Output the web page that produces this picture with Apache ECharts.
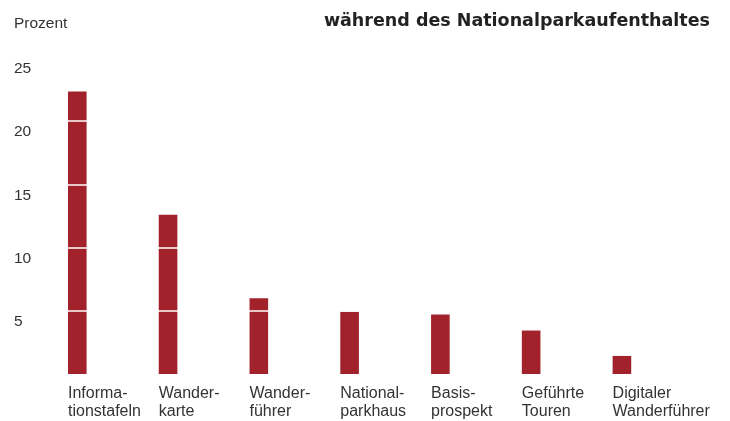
<!DOCTYPE html>
<html>
<head>
<meta charset="utf-8">
<script src="https://cdn.jsdelivr.net/npm/echarts@6/dist/echarts.min.js"></script>
<style>
  html, body { margin: 0; padding: 0; background: #fff; }
  #chart { width: 730px; height: 421px; }
</style>
</head>
<body>
<div id="chart"></div>
<script>
// Nutzung von Informationsangeboten während des Aufenthalts (Prozent)
const categories = [
  'Informa-\ntionstafeln',
  'Wander-\nkarte',
  'Wander-\nführer',
  'National-\nparkhaus',
  'Basis-\nprospekt',
  'Geführte\nTouren',
  'Digitaler\nWanderführer'
];
const values = [22.35, 12.6, 6.0, 4.93, 4.7, 3.44, 1.43];
const gridValues = [5, 10, 15, 20];

const chart = echarts.init(document.getElementById('chart'), null, { renderer: 'canvas' });
const font = '"Liberation Sans", Helvetica, Arial, sans-serif';

chart.setOption({
  animation: false,
  textStyle: { fontFamily: font },
  title: [
    {
      text: 'Prozent',
      left: 9, top: 11,
      textStyle: { fontSize: 15.5, fontWeight: 'normal', color: '#333', fontFamily: font }
    },
    {
      text: 'während des Nationalparkaufenthaltes',
      right: 15, top: 7,
      textStyle: { fontSize: 17.5, fontWeight: 'bold', color: '#222', fontFamily: '"DejaVu Sans", sans-serif' }
    }
  ],
  grid: { left: 22.6, right: 72, top: 58, bottom: 44.5 },
  xAxis: {
    type: 'category',
    data: categories,
    axisLine: { show: false },
    axisTick: { show: false },
    axisLabel: {
      align: 'left',
      margin: 11,
      fontSize: 16,
      lineHeight: 18,
      color: '#333',
      fontFamily: font,
      interval: 0
    }
  },
  yAxis: {
    type: 'value',
    min: 0, max: 25, interval: 5,
    splitLine: { show: false },
    axisLine: { show: false },
    axisTick: { show: false },
    axisLabel: {
      showMinLabel: false,
      align: 'left',
      verticalAlign: 'top',
      margin: 8.6,
      padding: [3, 0, 0, 0],
      fontSize: 15.5,
      color: '#333',
      fontFamily: font
    }
  },
  series: [
    { type: 'bar', data: [], barWidth: 18.6, barGap: '0%' },
    {
      type: 'bar',
      data: values,
      barWidth: 18.6,
      barGap: '0%',
      itemStyle: { color: '#a2222b' },
      markLine: {
        silent: true,
        symbol: 'none',
        label: { show: false },
        lineStyle: { color: '#fff', width: 1.5, type: 'solid' },
        data: gridValues.map(v => ({ yAxis: v }))
      }
    }
  ]
});
</script>
</body>
</html>
